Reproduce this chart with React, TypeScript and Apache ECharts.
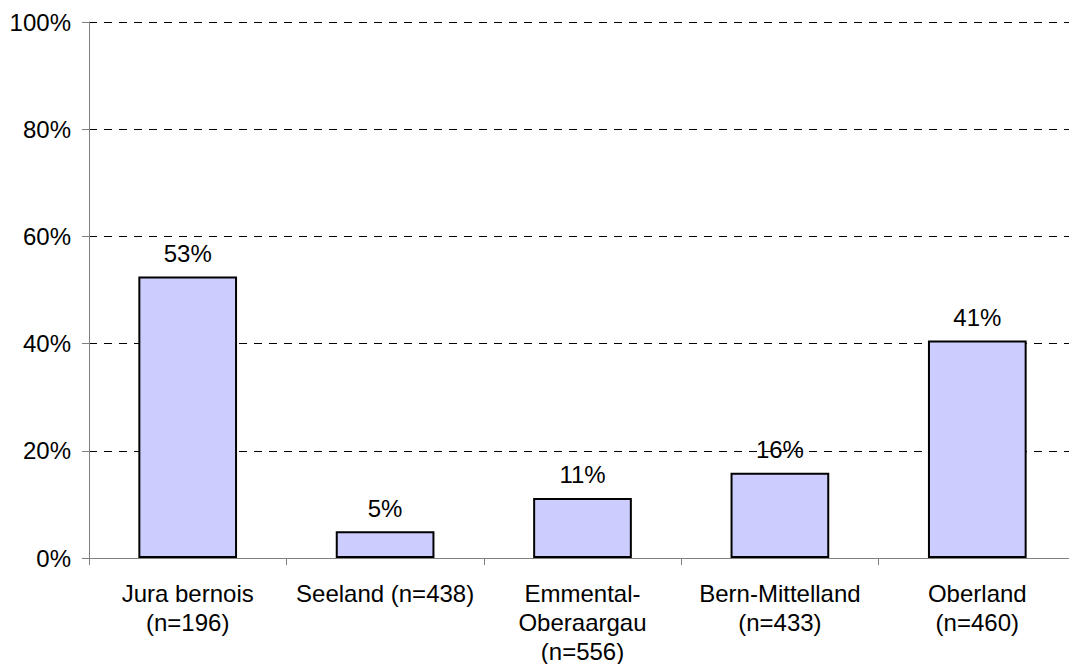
import React, { useEffect, useRef } from "react";
import * as echarts from "echarts";

const categories = [
  "Jura bernois\n(n=196)",
  "Seeland (n=438)",
  "Emmental-\nOberaargau\n(n=556)",
  "Bern-Mittelland\n(n=433)",
  "Oberland\n(n=460)",
];
const values = [52.5, 5.0, 11.2, 15.9, 40.6];
const yTicks = [0, 20, 40, 60, 80, 100];

const FONT = "'Liberation Sans', Arial, Helvetica, sans-serif";

export default function App() {
  const ref = useRef<HTMLDivElement>(null);
  useEffect(() => {
    if (!ref.current) return;
    const chart = echarts.init(ref.current, null, { renderer: "svg" });
    chart.setOption({
      animation: false,
      textStyle: { fontFamily: FONT },
      grid: {
        left: 89,
        top: 22,
        bottom: 106,
        right: -7,
        containLabel: false,
        outerBoundsMode: "none",
      },
      xAxis: {
        type: "category",
        data: categories,
        boundaryGap: true,
        axisLine: { show: true, lineStyle: { color: "#808080", width: 1 } },
        axisTick: { show: true, length: 7, inside: false, alignWithLabel: false, lineStyle: { color: "#808080" } },
        axisLabel: {
          interval: 0,
          margin: 21,
          color: "#000",
          fontSize: 24,
          lineHeight: 29,
          fontFamily: FONT,
          align: "center",
        },
      },
      yAxis: {
        type: "value",
        min: yTicks[0],
        max: yTicks[yTicks.length - 1],
        interval: 20,
        axisLine: { show: true, lineStyle: { color: "#808080", width: 1 } },
        axisTick: { show: true, length: 7, lineStyle: { color: "#808080" } },
        axisLabel: {
          margin: 18,
          color: "#000",
          fontSize: 24,
          fontFamily: FONT,
          formatter: (v: number) => v + "%",
        },
        splitLine: {
          show: true,
          lineStyle: { color: "#000", width: 1, type: [8, 7] },
        },
      },
      series: [
        {
          type: "bar",
          data: values,
          barWidth: "50%",
          itemStyle: { color: "#ccccff", borderColor: "#000", borderWidth: 2 },
          label: {
            show: true,
            position: "top",
            distance: 11,
            color: "#000",
            fontSize: 24,
            fontFamily: FONT,
            formatter: (p: any) => Math.round(p.value) + "%",
          },
        },
      ],
    });
    return () => chart.dispose();
  }, []);
  return <div ref={ref} style={{ width: 1069, height: 664, position: "absolute", left: 0, top: 0 }} />;
}
